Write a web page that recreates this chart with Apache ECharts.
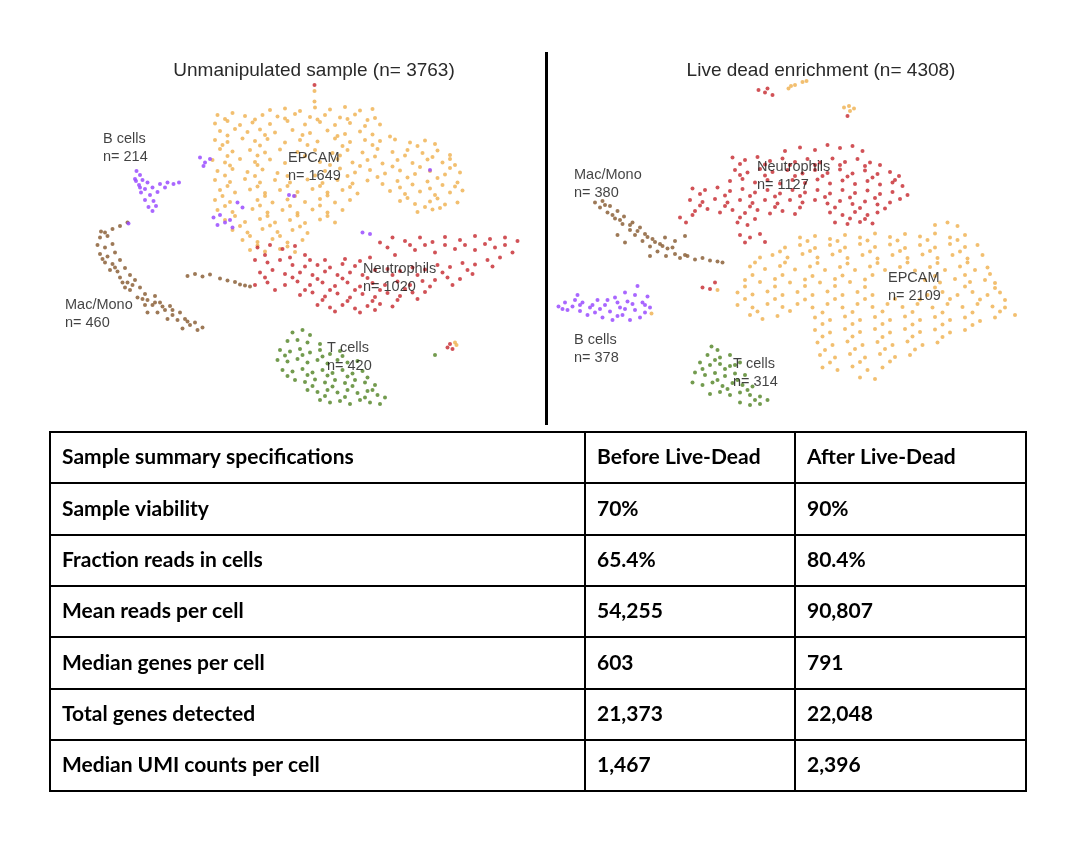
<!DOCTYPE html>
<html>
<head>
<meta charset="utf-8">
<script src="https://cdn.jsdelivr.net/npm/echarts@6/dist/echarts.min.js"></script>
<style>
  html, body { margin: 0; padding: 0; background: #fff; }
  #chart { width: 1084px; height: 844px; }
</style>
</head>
<body>
<div id="chart"></div>
<script>
// ------------------------------------------------------------------
// t-SNE coordinates (tSNE_1, tSNE_2)
// ------------------------------------------------------------------

// Unmanipulated sample
var unEpcam = [
  [-5,28],[-2,28.3],[1,27.8],[4,28.5],[7,28.1],[10,28.6],[13,27.9],[15.5,28.2],
  [-15.5,27],[-12.5,27.4],[-10,26.8],[-6.5,27],[-3.5,26.7],[0,27.2],[3,26.6],[6,27],[9,26.5],[12,27.1],[16,26.4],
  [-14,26.2],[-8,26.1],[-2,26.3],[4.5,26.1],[10.5,26.2],[14.5,26],
  [-16,25.3],[-13.5,25.8],[-11,25],[-8.5,25.5],[-5,25.2],[-1.5,25.8],[2,25.1],[5,25.6],[8,25],[11,25.4],[14,24.8],[17,25.1],
  [-15,23.8],[-12,24.2],[-9.5,23.6],[-7,24.1],[-4,23.5],[-0.5,24],[3,23.4],[6.5,23.9],[10,23.2],[13,23.7],
  [-13.5,22.9],[-6,23],[1.5,23],[8.5,22.8],[15.5,23.1],[19,22.7],
  [-16,22],[-13.5,21.6],[-10.5,22.3],[-8,21.8],[-5.5,22.2],[-2,21.5],[1,22],[4.5,21.7],[8,22.3],[11,21.6],[14,22],[17,21.8],[20,22.1],[23,21.5],[26,21.9],
  [-14.5,21],[-7,20.9],[2.5,21],[9.5,20.8],[15.5,21],[24.5,20.8],[28,21.2],
  [-15,20.2],[-12.5,19.7],[-9,20],[-6,19.5],[-3,20.1],[0.5,19.6],[4,20],[7.5,19.4],[10.5,20],[13.5,19.5],[16.5,20.2],[19.5,19.6],[22.5,20],[25.5,19.4],[28.5,19.9],[31,19],
  [-13.5,18.8],[-7.5,18.9],[2,18.8],[9,18.9],[16,18.7],[22,18.9],[27.5,18.6],[31,18.2],
  [-16.5,18],[-14,17.5],[-11,18.2],[-8,17.6],[-5,18.1],[-2,17.4],[5,17.6],[8.5,18.2],[11.5,17.5],[14.5,18],[17.5,17.3],[20.5,18],[23.5,17.4],[26.5,18.1],[29.5,17.5],[32,17],
  [-13,16.9],[-7.5,17],[7,17],[13,16.8],[19.5,16.7],[25,16.6],[31,16.4],
  [-15.5,15.8],[-12.5,16.2],[-9.5,15.6],[-6.5,16.1],[-3.5,15.4],[6,15.8],[9,16.3],[12,15.5],[15,16],[18,15.3],[21,15.9],[24,15.2],[27,15.8],[30,15.1],[33,15.5],
  [-14,14.9],[-8,14.8],[-1.5,14.8],[4,14.9],[10.5,14.8],[16.5,14.6],[22.5,14.5],[28.5,14.4],
  [-16,14],[-13,13.6],[-10,14.2],[-7,13.5],[-4,14],[-1,13.5],[2.5,14.1],[5.5,13.4],[8.5,14],[11.5,13.3],[14.5,13.9],[17.5,13.2],[20.5,13.8],[23.5,13.1],[26.5,13.7],[29.5,13],[32.5,13.5],
  [-13.5,12.8],[-7.5,12.7],[-1.5,12.8],[5,12.8],[11,12.6],[21,12.5],[27,12.3],[32,12.7],
  [-15,12],[-12,11.5],[-9,12.1],[-6,11.4],[-3,12],[0.5,11.6],[3.5,12.2],[6.5,11.5],[9.5,12],[12.5,11.3],[19,11.8],[22,11.2],[25,11.7],[28,11],[31,11.5],[33.5,11.9],
  [-14.5,10.8],[-6,10.8],[0,10.8],[6.5,10.9],[22.5,10.4],[28.5,10.3],
  [-16,10],[-13,9.6],[-7.5,10],[-4.5,9.5],[-1.5,10.1],[2,9.6],[5,10.2],[8,9.5],[11,10],[21,9.8],[24,9.2],[27,9.7],[30,9.1],[32.5,9.5],
  [-14,8.8],[-7,8.9],[-1,8.8],[5,8.9],[26,8.6],[29,8.4],
  [-15.5,8],[-12.5,7.6],[-8.5,8.2],[-5.5,7.5],[-2.5,8],[0.5,7.4],[3.5,8.1],[6.5,7.5],[9.5,8],[24.5,7.6],[27.5,8.1],
  [-12,6.8],[-5.5,6.8],[0.5,6.9],[6.5,6.8],
  [-14,6],[-10,5.6],[-7,6.2],[-4,5.5],[-1,6],[2,5.4],[5,6.1],[8,5.5],
  [-11,4.8],[-5,4.9],[1,4.7],
  [-12.5,4],[-9.5,3.5],[-6.5,4.2],[-3.5,3.6],[-0.5,4],[2.5,3.4],
  [-9,2.8],[-3,2.8],
  [-10.5,2],[-7.5,1.6],[-4.5,2.2],[-1.5,1.5],[1.5,2],
  [-7.5,0.9],[-1.5,0.7],
  [-9,0],[-6,-0.3],[-3,0.2],[0,-0.4],
  [3.9,29.7],[3.9,31.8],[32,-18.5],[32.3,-19]
];
var unNeutro = [
  [-7.5,0.5],[-5,1],[-2.5,0.2],[0,0.8],[2,-1],[3.9,33],
  [-6,-1],[-1,-1.5],[3,-2],[6,-2],[10,-1.8],[13,-2.2],[18.5,0.5],[23,1],[26,1],[30,1],[34,1],[38,1.2],[42,1],
  [-8,-2],[-5.5,-2.5],[-3,-2],[-0.5,-3],[2,-3.3],[4.5,-3],[7,-3.5],[9.5,-2.8],[12,-3.2],[15,-1.5],[17,1.5],[19.5,2.5],[22,1.8],[25,2.5],[27.5,1.6],[30,2.6],[33,2],[36,2.8],[39,2.2],[42,2.5],[44.5,1.8],
  [-7,-4.5],[-4.5,-4],[-2,-4.8],[1,-4.5],[3.5,-5],[6,-4.3],[8.5,-5],[11,-4.5],[13.5,-5],[16,-4],[18.5,-3.8],[21,-4.2],[23.5,-3.5],[26,-3.9],[28.5,-3],[31,-3.4],[33.5,-2.6],[36,-2.9],[38.5,-2],[41,-1.5],[43.5,-0.5],
  [20,-1],[24,0],[28,-0.5],[32,0.2],[36,0],[40,0.5],
  [-6,-5.5],[-0.5,-5.5],[4.5,-5.8],[9.5,-5.7],[14.5,-5.6],[19.5,-5],[24.5,-5],[29.5,-4.5],[34.5,-4],[39.5,-3.3],
  [-8,-7],[-5.5,-6.5],[-2,-7],[0.5,-6.3],[3,-7],[5.5,-6.5],[8,-7.2],[10.5,-6.5],[13,-7.3],[15.5,-6.6],[18,-7],[20.5,-6.3],[23,-7],[25.5,-6.2],[28,-6],[30.5,-5.5],[33,-5.8],[35.5,-4.8],
  [-4,-8],[2,-8],[7,-8],[12,-8],[17,-8],[22,-7.8],[27,-7.3],[31.5,-7],
  [1,-9],[3.5,-8.5],[6,-9.3],[8.5,-8.7],[11,-9.5],[13.5,-8.8],[16,-9.4],[18.5,-8.6],[21,-9.2],[23.5,-8.5],[26,-8.4],
  [5.5,-10],[10.5,-10.2],[15.5,-10.2],[20.5,-10],[24.5,-9.8],
  [4.5,-11],[7,-11.5],[9.5,-11],[12,-11.7],[14.5,-11.2],[17,-10.8],[19.5,-11.3],[8,-12.3],[13,-12.5],[16,-12],
  [30.5,-19.5],[31,-18.8],[31.5,-19.8]
];
var unMacMono = [
  [-33.5,5.5],[-35,4.8],[-36.5,4.2],[-38,3.5],[-39,2.5],[-37.5,2.8],[-39.5,1],[-38,0.5],[-36.5,1.2],[-39,-0.8],[-37.5,-1.3],[-36,-0.5],
  [-38,-2.5],[-36.5,-2.8],[-35,-2],[-37,-4],[-35.5,-4.3],[-34,-3.6],[-33,-5],[-35,-5.5],[-33.5,-6.5],[-32,-6],[-31,-7.5],[-33,-8],
  [-30,-8.8],[-31.5,-9.5],[-29.5,-10],[-28,-9.2],[-28.5,-11],[-27,-10.5],[-26,-12],[-27.5,-12.5],[-25,-11.2],[-24.5,-13],[-23,-12.5],
  [-23.5,-14],[-22,-13.8],[-21,-15],[-20,-14.5],[-19.5,-16],[-18.5,-15.5],[-25.5,-13.8],[-30,-11],[-34,-7.5],[-29.5,-12.5],[-22.5,-15.7],
  [-38.8,3.7],[-38.5,-1.8],[-36,-3.5],[-34.5,-6.5],[-32.5,-7],[-30.5,-9.8],[-28,-10.5],[-26.5,-11.3],[-24.5,-12],[-21.5,-14.3],
  [-21.5,-5.2],[-20,-4.8],[-18.5,-5.3],[-17,-4.9],[-15,-5.7],[-13.5,-6.1],[-12,-6.4],[-11,-6.9],[-10,-7.1],[-9,-7.3]
];
var unBcells = [
  [-31.7,15.8],[-31,15],[-32,14.2],[-30.5,14],[-31.2,13],[-29.5,13.5],[-30,12.2],[-28.5,12.5],[-30.8,11.5],[-29,11],[-27.5,11.6],
  [-30,10],[-28.3,9.8],[-29.3,8.6],[-27.8,8.8],[-28.5,7.8],[-31.8,13.8],[-31,12.5],
  [-27,13.2],[-25.5,13.5],[-24.3,13.2],[-23.2,13.5],[-26,12.5],
  [-19,18.5],[-18,17.5],[-17,18.2],[-18.3,16.8],[-16.3,6.5],[-15,7],[-14,5.5],[-13,6],[-15.5,5],[-12.5,4.5],
  [-11.5,9.5],[-10.5,8.5],[-1.2,11],[-0.2,10.8],[13.5,3.5],[15,3.2],[27,16],[-33.3,5.3]
];
var unTcells = [
  [-0.5,-16.5],[1.5,-16],[3,-17],[-1.5,-18.2],[0.5,-18],[2.5,-18.5],[5,-18.8],
  [-3,-20],[-1,-20.3],[1,-19.8],[3,-20.5],[5,-20],[7,-20.8],[9,-20.2],
  [-2,-21.1],[1.5,-21],[5.5,-21.3],[9.5,-21.2],
  [-3.5,-22],[-1.5,-22.3],[0.5,-21.8],[2.5,-22.5],[4.5,-22],[6.5,-22.7],[8.5,-22],[10.5,-22.5],[12.5,-22.2],
  [-2.5,-24],[-0.5,-24.3],[1.5,-23.8],[3.5,-24.5],[5.5,-24],[7.5,-24.6],[9.5,-24],[11.5,-24.7],[13.5,-24.2],
  [-1.5,-25.2],[2.5,-25],[6.5,-25.1],[10.5,-25.3],[14.5,-25.5],
  [0,-26],[2,-26.4],[4,-25.9],[6,-26.5],[8,-26],[10,-26.6],[12,-26],[14,-26.5],[16,-27],
  [3.5,-27.2],[7.5,-27.3],[11.5,-27.2],[15.5,-28],
  [2.5,-28],[4.5,-28.4],[6.5,-28],[8.5,-28.5],[10.5,-28],[12.5,-28.6],[14.5,-28.2],[16.5,-29],[18,-29.5],
  [6,-29.2],[10,-29.4],[14,-29.5],
  [5,-30],[7,-30.5],[9,-30.2],[11,-30.8],[13,-30],[15,-30.5],[17,-30.8],
  [28,-21]
];

// Live dead enrichment
var ldEpcam = [
  [27,5],[29.5,5.5],[31.5,4.8],
  [0,2.5],[3,2.8],[6,2.2],[9,3],[12,2.5],[15,3.3],[18,2.6],[21,3.2],[24,2.7],[27,3.3],[30,2.5],[33,3],
  [1.5,1.8],[7.5,1.8],[13.5,1.9],[19.5,1.9],[25.5,2],[31.5,2],
  [-3,0.5],[0,1],[3,0.4],[6,1],[9,0.5],[12,1.2],[15,0.6],[18,1.1],[21,0.4],[24,1],[27,0.5],[30,1.2],[33,0.6],[35.5,1],
  [-4,-0.3],[2,-0.2],[8,-0.2],[14,-0.3],[20,-0.2],[26,-0.2],[32,-0.3],
  [-8,-1.5],[-5.5,-1],[-2.5,-1.5],[0.5,-0.8],[3.5,-1.5],[6.5,-0.9],[9.5,-1.6],[12.5,-1],[15.5,-1.7],[18.5,-1],[21.5,-1.6],[24.5,-0.9],[27.5,-1.6],[30.5,-1],[33.5,-1.7],[36.5,-1],
  [-9,-2.5],[-3,-2.5],[3.5,-2.6],[9.5,-2.7],[15.5,-2.6],[21.5,-2.5],[27.5,-2.6],[33.5,-2.5],
  [-10,-3.3],[-7,-3.8],[-4,-3.2],[-1,-3.9],[2,-3.3],[5,-4],[8,-3.4],[11,-4],[14,-3.3],[17,-4],[20,-3.4],[23,-4.1],[26,-3.4],[29,-4],[32,-3.3],[35,-4],[37.5,-3.5],
  [-9.5,-5],[-3.5,-5],[2.5,-5.2],[8.5,-5.1],[14.5,-5],[27,-5.2],[33,-5],[38,-4.8],
  [-11,-6],[-8,-6.4],[-5,-5.8],[-2,-6.5],[1,-5.9],[4,-6.5],[7,-5.8],[10,-6.4],[13,-5.9],[25,-6],[28,-6.5],[31,-5.8],[34,-6.4],[37,-6],[39,-6.6],
  [-11,-7.3],[-5,-7.3],[1,-7.2],[7,-7.2],[13,-7.4],[27,-7.5],[33,-7.3],[39,-7.6],
  [-12.5,-8.5],[-9.5,-8.9],[-6.5,-8.3],[-3.5,-9],[-0.5,-8.4],[2.5,-9],[5.5,-8.3],[8.5,-9],[11.5,-8.4],[14.5,-9],[25.5,-9],[28.5,-8.4],[31.5,-9],[34.5,-8.4],[37.5,-9],[40,-8.5],
  [-11,-9.8],[-5,-9.8],[1,-9.9],[7,-9.8],[13,-9.8],[19,-9.8],[24,-9.9],[30,-9.8],[36,-9.9],[41,-10],
  [-12.5,-11],[-9.5,-11.5],[-6.5,-10.8],[-3.5,-11.4],[-0.5,-10.8],[2.5,-11.5],[5.5,-10.8],[8.5,-11.5],[11.5,-10.8],[14.5,-11.4],[17.5,-10.8],[20.5,-11.4],[23.5,-10.8],[26.5,-11.5],[29.5,-10.8],[32.5,-11.4],[35.5,-10.8],[38.5,-11.3],[41,-11.5],[43,-13],
  [-8.5,-12.3],[-2,-12.2],[4.5,-12.5],[10.5,-12.4],[16.5,-12.3],[22.5,-12.4],[28.5,-12.5],[34.5,-12.5],[40,-12.3],
  [-10,-13],[-7.5,-13.8],[-4.5,-13.2],[3,-13.5],[6,-14],[9,-13.3],[12,-14],[15,-13.4],[18,-14],[21,-13.3],[24,-14],[27,-13.4],[30,-14],[33,-13.5],[36,-14.2],[39,-13.5],
  [4.5,-14.8],[10.5,-14.8],[16.5,-14.8],[22.5,-14.9],[28.5,-14.9],[34.5,-15],
  [3,-16],[6,-16.5],[9,-15.8],[12,-16.4],[15,-15.8],[18,-16.5],[21,-15.8],[24,-16.4],[27,-15.9],[30,-16.5],[33,-16],
  [4.5,-17.3],[10.5,-17.3],[16.5,-17.4],[22.5,-17.3],[28.5,-17.4],
  [3.5,-18.5],[6.5,-19],[9.5,-18.3],[12.5,-19],[15.5,-18.4],[18.5,-19],[21.5,-18.3],[24.5,-19],[27.5,-18.5],
  [5,-20],[11,-19.8],[17,-19.8],[23,-19.9],
  [4,-21],[7,-21.5],[10,-20.8],[13,-21.5],[16,-20.8],[19,-21.4],[22,-21],
  [6,-22.5],[12,-22.4],[18,-22.3],
  [4.5,-23.5],[7.5,-24],[10.5,-23.3],[13.5,-24],[16.5,-23.5],[12,-25.5],[15,-25.8],
  [-16.5,-8],[-29.7,-12.7],
  [-2.3,32.3],[-1,33],[0.5,33.6],[1.3,33.8],[-1.8,32.8],[8.8,28.5],[9.8,28.8],[10.8,28.3],[10,27.8]
];
var ldNeutro = [
  [-3,19.8],[0,20.5],[3,20],[5.5,21],[8,20.4],[10.5,20.8],[12.5,19.8],
  [-13.5,18.5],[-11,18],[-8.5,18.6],[-6,17.8],[-3.5,18.3],[-1,17.6],[1.5,18.2],[4,17.5],[6.5,18.3],[9,17.6],[11.5,18.2],[14,17.5],[16,17],
  [-12,17.2],[-7,17.1],[-2,17],[3,17],[8,17],[13,16.8],
  [-13,16],[-10.5,15.5],[-8,16.2],[-5.5,15.6],[-2.5,16],[0.5,15.3],[3,16],[5.5,15.4],[8,16.1],[10.5,15.3],[13,15.9],[15.5,15.2],[18,15.6],[19.8,14.8],
  [-12,15],[-7,14.9],[-1,14.8],[4.5,14.8],[9.5,14.7],[14.5,14.5],[19,14],
  [-14,13.8],[-11.5,14.2],[-9,13.5],[-6.5,14],[-4,13.3],[-1.5,14],[1,13.4],[3.5,14.1],[6,13.3],[8.5,13.9],[11,13.2],[13.5,13.8],[16,13.1],[18.5,13.5],[20.5,12.8],
  [-21.5,12.3],[-19,12],[-16.5,12.5],[-14,11.8],[-11.5,12.2],[-9,11.5],[-6.5,12],[-4,11.3],[-1.5,12],[1,11.5],[3.5,12],[6,11.3],[8.5,12],[11,11.4],[13.5,11.9],[16,11.2],[18.5,11.6],[21.5,11],
  [-20,11.2],[-15,10.9],[-10,10.8],[-5,10.7],[0,10.8],[5,10.6],[10,10.5],[15,10.4],[20,10.2],
  [-22,10],[-19.5,9.6],[-17,10.2],[-14.5,9.5],[-12,10],[-9.5,9.4],[-7,10],[-4.5,9.3],[-2,10],[0.5,9.5],[3,10],[5.5,9.3],[8,9.8],[10.5,9.2],[13,9.7],[15.5,9.1],[18,9.5],
  [-20,8.9],[-15,8.8],[-10,8.7],[-5,8.6],[0,8.5],[7,8.5],[12,8.4],[17,8.3],
  [-21,7.8],[-18.5,8.2],[-16,7.5],[-13.5,8],[-11,7.4],[-8.5,8],[-6,7.3],[-3.5,7.8],[-1,7.2],[6,7.5],[8.5,7],[11,7.6],[13.5,7],[15.5,7.5],
  [-12,6.5],[-9,6.2],[10,6.3],[13,6.2],
  [-12.5,5.5],[-10.5,5],[7,5.5],[9.5,5.2],[12,5.6],[14.5,5.3],
  [-12,3],[-10,2.5],[-8,3.2],[-7,1.6],[-11,1.5],
  [-24,6.5],[-22.8,5.5],[-21.5,7],
  [-8.3,32],[-7,31.5],[-5.5,31],[-6.5,32.3],[9.5,26.8],
  [-19.5,-7.5],[-18,-7.8],[-17,-6.5]
];
var ldMacMono = [
  [-41,9.5],[-39.5,9.8],[-40,8.5],[-38,8.8],[-38.5,7.5],[-36.5,7.8],[-37,6.3],[-35.2,6.7],[-35.5,5.2],[-33.5,5.5],[-34,4],[-32,4.5],
  [-33,3],[-31,3.2],[-31.5,1.8],[-29.5,2.2],[-30,0.7],[-28,1.2],[-28.5,-0.3],[-26.5,0.3],[-26.8,-1.2],[-25,-0.8],[-24,-1.6],[-22.5,-1.2],
  [-21,-1.9],[-19.5,-1.6],[-18,-2.1],[-16.5,-2.3],[-15.5,-2.5],[-30,-1.2],[-35,1.5],[-36.5,3],[-27,2.5],[-25,1.8],[-23,2.8],
  [-39,9],[-37.5,7],[-36,6],[-34,5],[-32.5,3.8],[-30.5,2.6],[-29,1.6],[-27.5,0.8],[-25.5,0.5],[-23,-1]
];
var ldBcells = [
  [-48.3,-11.3],[-47,-10.5],[-46.5,-12],[-45,-10],[-45.5,-11.3],[-44,-12.2],[-43.5,-10.5],[-42,-11.5],[-42.5,-13],[-41,-12.5],
  [-40.5,-10],[-39.5,-13.5],[-39,-11],[-38,-12.3],[-37,-9.5],[-37.5,-14],[-36,-11.5],[-35.5,-13],[-35,-8.5],[-34.5,-10.3],
  [-34,-14],[-33,-12],[-33,-9],[-32.5,-7.2],[-32,-13.5],[-31.5,-10.5],[-31,-12.5],[-30.5,-9.3],[-30,-11.5],[-44.5,-9],
  [-47.5,-11.8],[-44,-11],[-41.5,-11],[-40,-11.8],[-38.5,-10],[-36.5,-13.2],[-35,-11.8],[-33.5,-10.8],[-31,-11],[-36.5,-10.5]
];
var ldTcells = [
  [-17.7,-19.3],[-16.5,-20],[-18.5,-21],[-16,-21.5],[-14,-21],[-20,-22.5],[-18,-23],[-16,-22.8],[-14,-23.2],[-12,-22.5],
  [-21,-24.5],[-19,-25],[-17,-24.6],[-15,-25.2],[-13,-24.7],[-11,-25],[-21.5,-26.5],[-19.5,-27],[-17.5,-26.5],[-15.5,-27.2],
  [-13.5,-26.6],[-11.5,-27],[-9.5,-27.3],[-18,-28.8],[-16,-28.4],[-14,-29],[-12,-28.5],[-10,-29],[-8,-29.3],[-6.5,-30],
  [-12,-30.5],[-10,-31],[-8,-30.8],
  [-17,-22],[-15,-23.8],[-13,-23],[-19.5,-23.8],[-16.5,-26],[-14.5,-27.8],[-12.5,-26],[-10.5,-28],[-9,-30]
];

// cluster names, counts and label anchors (tSNE units)
var clusterNames = ['EPCAM', 'Neutrophils', 'Mac/Mono', 'B cells', 'T cells'];
var unCounts = [1649, 1020, 460, 214, 420];
var ldCounts = [2109, 1127, 380, 378, 314];
var unLabelAt = [[-1.4,16.7],[13.6,-5.5],[-46,-12.8],[-38.4,20.4],[6.4,-21.4]];
var ldLabelAt = [[17.6,-7.4],[-8.6,14.8],[-45.2,13.3],[-45.2,-19.8],[-13.4,-24.5]];
var panelTitles = ['Unmanipulated sample (n= 3763)', 'Live dead enrichment (n= 4308)'];

// summary table
var tableHeader = ['Sample summary specifications', 'Before Live-Dead', 'After Live-Dead'];
var specNames = ['Sample viability', 'Fraction reads in cells', 'Mean reads per cell',
                 'Median genes per cell', 'Total genes detected', 'Median UMI counts per cell'];
var beforeLiveDead = ['70%', '65.4%', '54,255', '603', '21,373', '1,467'];
var afterLiveDead = ['90%', '80.4%', '90,807', '791', '22,048', '2,396'];

// ------------------------------------------------------------------

var clusterColors = ['#f0b457', '#c9343a', '#8c6239', '#9a4cff', '#5b8a30'];
var unSets = [unEpcam, unNeutro, unMacMono, unBcells, unTcells];
var ldSets = [ldEpcam, ldNeutro, ldMacMono, ldBcells, ldTcells];

var chart = echarts.init(document.getElementById('chart'));

var hiddenAxis = function(idx, min, max) {
    return {
        type: 'value', gridIndex: idx, min: min, max: max,
        show: false, splitLine: { show: false }
    };
};

var series = [];
[unSets, ldSets].forEach(function(sets, p) {
    sets.forEach(function(pts, c) {
        series.push({
            type: 'scatter',
            name: clusterNames[c],
            xAxisIndex: p,
            yAxisIndex: p,
            data: pts,
            symbolSize: 4,
            itemStyle: { color: clusterColors[c], opacity: 0.85 },
            silent: true
        });
    });
    var counts = p === 0 ? unCounts : ldCounts;
    var at = p === 0 ? unLabelAt : ldLabelAt;
    series.push({
        type: 'scatter',
        xAxisIndex: p,
        yAxisIndex: p,
        symbolSize: 0,
        z: 5,
        silent: true,
        data: at.map(function(pos, i) {
            return { value: pos, name: clusterNames[i] + '\nn= ' + counts[i] };
        }),
        label: {
            show: true,
            position: [0, 0],
            align: 'left',
            verticalAlign: 'middle',
            formatter: '{b}',
            color: '#111',
            fontSize: 14.5,
            lineHeight: 18,
            fontFamily: 'Liberation Sans, Arial, sans-serif'
        }
    });
});

// table drawing
var tbl = { left: 50, right: 1026, top: 432, rowH: 51.3, cols: [50, 585, 795, 1026], pad: 12 };
var rows = [tableHeader].concat(specNames.map(function(n, i) {
    return [n, beforeLiveDead[i], afterLiveDead[i]];
}));
var tblBottom = tbl.top + rows.length * tbl.rowH;
var graphics = [];
graphics.push({
    type: 'line', shape: { x1: 546.5, y1: 52, x2: 546.5, y2: 425 },
    style: { stroke: '#000', lineWidth: 3 }
});
graphics.push({
    type: 'rect', shape: { x: tbl.left, y: tbl.top, width: tbl.right - tbl.left, height: tblBottom - tbl.top },
    style: { fill: null, stroke: '#000', lineWidth: 2 }
});
for (var r = 1; r < rows.length; r++) {
    var ly = Math.round(tbl.top + r * tbl.rowH);
    graphics.push({
        type: 'line', shape: { x1: tbl.left, y1: ly, x2: tbl.right, y2: ly },
        style: { stroke: '#000', lineWidth: 2 }
    });
}
[1, 2].forEach(function(c) {
    graphics.push({
        type: 'line', shape: { x1: tbl.cols[c], y1: tbl.top, x2: tbl.cols[c], y2: tblBottom },
        style: { stroke: '#000', lineWidth: 2 }
    });
});
rows.forEach(function(row, r) {
    row.forEach(function(txt, c) {
        graphics.push({
            type: 'text',
            x: tbl.cols[c] + tbl.pad,
            y: tbl.top + (r + 0.5) * tbl.rowH,
            style: {
                text: txt,
                fill: '#000',
                font: 'bold 21px Lato, Carlito, sans-serif',
                textVerticalAlign: 'middle',
                verticalAlign: 'middle'
            }
        });
    });
});

chart.setOption({
    backgroundColor: '#fff',
    animation: false,
    title: panelTitles.map(function(t, i) {
        return {
            text: t,
            left: i === 0 ? 309 : 816,
            top: 56,
            textAlign: 'center',
            textStyle: { fontSize: 19, fontWeight: 'normal', color: '#2a2a2a', fontFamily: 'Liberation Sans, Arial, sans-serif' }
        };
    }),
    grid: [
        { left: 50, top: 80, width: 490, height: 340 },
        { left: 555, top: 80, width: 490, height: 340 }
    ],
    xAxis: [hiddenAxis(0, -49, 49), hiddenAxis(1, -49, 49)],
    yAxis: [hiddenAxis(0, -34, 34), hiddenAxis(1, -34, 34)],
    series: series,
    graphic: graphics
});
</script>
</body>
</html>
